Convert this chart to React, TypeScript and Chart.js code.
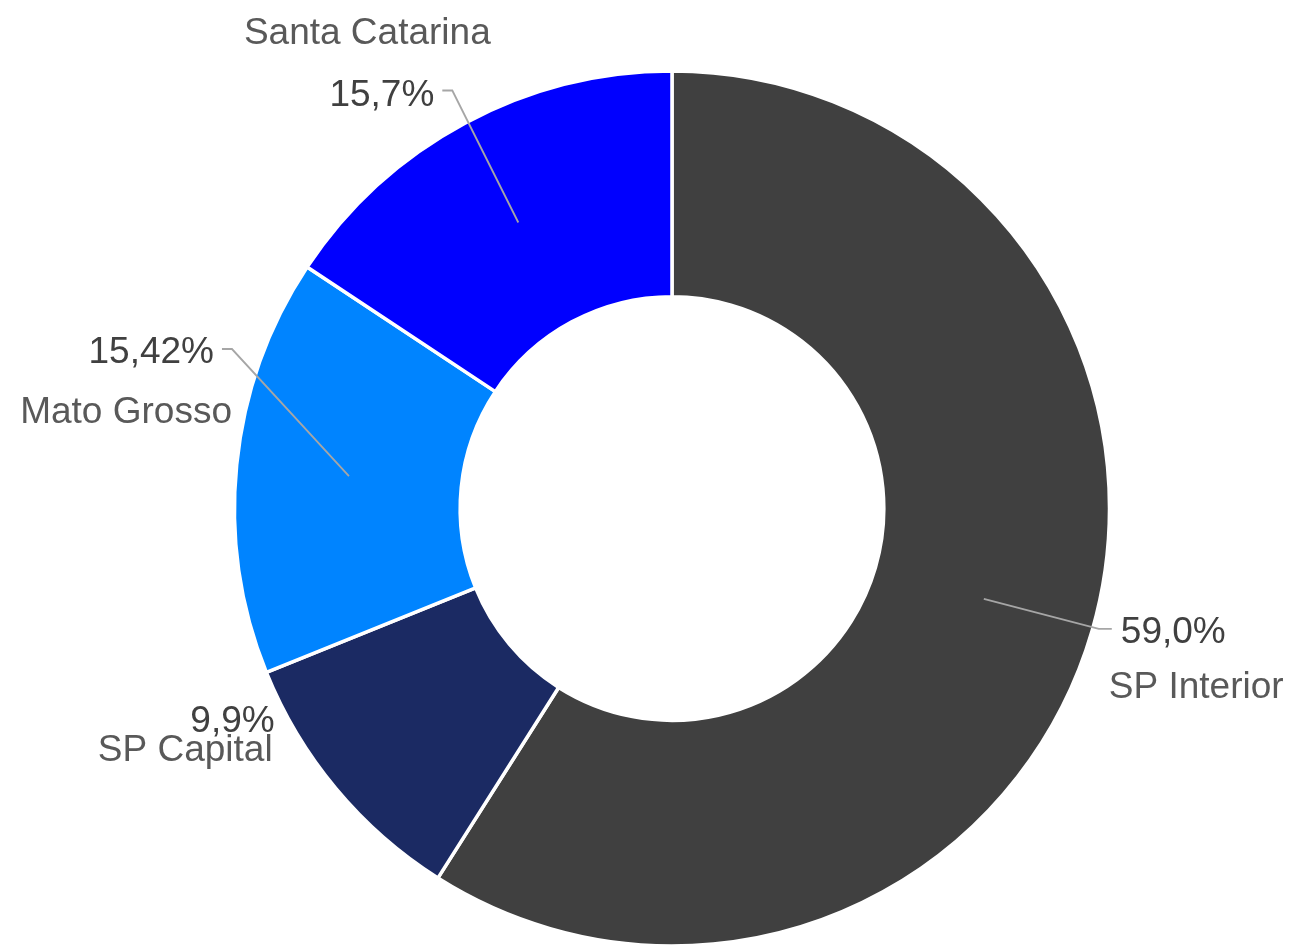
import React, { useEffect, useRef } from "react";
import { Chart, registerables } from "chart.js";

Chart.register(...registerables);

const categories = ["SP Interior", "SP Capital", "Mato Grosso", "Santa Catarina"];
const shares = [59.0, 9.9, 15.42, 15.7];
const shareLabels = ["59,0%", "9,9%", "15,42%", "15,7%"];
const sliceColors = ["#404040", "#1b2a63", "#0084ff", "#0000ff"];

// label layout, offsets relative to each slice's centroid
type Pt = [number, number];
interface LabelLayout {
  line: Pt[] | null;
  pct: { at: Pt; align: CanvasTextAlign };
  name: { at: Pt; align: CanvasTextAlign };
}
const labelLayouts: LabelLayout[] = [
  { line: [[115, 30], [128, 30]], pct: { at: [137, 44], align: "left" }, name: { at: [125, 99], align: "left" } },
  { line: null, pct: { at: [-148, 16], align: "right" }, name: { at: [-150, 45], align: "right" } },
  { line: [[-117, -127], [-127, -127]], pct: { at: [-135, -113], align: "right" }, name: { at: [-117, -53], align: "right" } },
  { line: [[-66, -132], [-76, -132]], pct: { at: [-84, -117], align: "right" }, name: { at: [-151, -179], align: "center" } },
];

const labelPlugin = {
  id: "sliceLabels",
  afterDraw(chart: any) {
    const ctx: CanvasRenderingContext2D = chart.ctx;
    const meta = chart.getDatasetMeta(0);
    meta.data.forEach((arc: any, i: number) => {
      const c = arc.getCenterPoint();
      const lay = labelLayouts[i];
      ctx.save();
      if (lay.line) {
        ctx.strokeStyle = "#a6a6a6";
        ctx.lineWidth = 1.8;
        ctx.beginPath();
        ctx.moveTo(c.x, c.y);
        lay.line.forEach((p) => ctx.lineTo(c.x + p[0], c.y + p[1]));
        ctx.stroke();
      }
      ctx.font = "37px 'Liberation Sans', Arial, sans-serif";
      ctx.textBaseline = "alphabetic";
      ctx.fillStyle = "#404040";
      ctx.textAlign = lay.pct.align;
      ctx.fillText(shareLabels[i], c.x + lay.pct.at[0], c.y + lay.pct.at[1]);
      ctx.fillStyle = "#595959";
      ctx.textAlign = lay.name.align;
      ctx.fillText(categories[i], c.x + lay.name.at[0], c.y + lay.name.at[1]);
      ctx.restore();
    });
  },
};

export default function App() {
  const ref = useRef<HTMLCanvasElement | null>(null);
  useEffect(() => {
    if (!ref.current) return;
    const chart = new Chart(ref.current, {
      type: "doughnut",
      data: {
        labels: categories,
        datasets: [
          {
            data: shares,
            backgroundColor: sliceColors,
            borderColor: "#ffffff",
            borderWidth: 3.5,
            hoverOffset: 0,
          },
        ],
      },
      options: {
        responsive: false,
        animation: false,
        radius: 437.5,
        cutout: 210.5,
        layout: { padding: { left: 235.5, right: 186.5, top: 71, bottom: 0 } },
        plugins: { legend: { display: false }, tooltip: { enabled: false } },
      } as any,
      plugins: [labelPlugin],
    });
    return () => chart.destroy();
  }, []);
  return (
    <div style={{ position: "absolute", left: 0, top: 0, width: 1295, height: 946, background: "#fff" }}>
      <canvas ref={ref} width={1295} height={946} style={{ width: 1295, height: 946 }} />
    </div>
  );
}
